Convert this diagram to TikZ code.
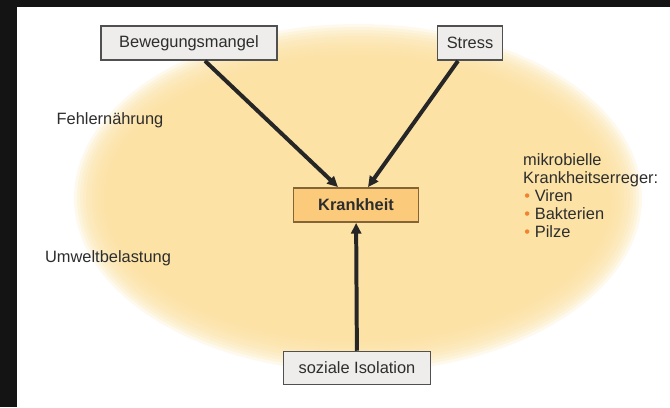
\documentclass[tikz,border=0pt]{standalone}
\usepackage{fontspec}
\setmainfont{Liberation Sans}
\usetikzlibrary{arrows.meta, positioning}
\definecolor{frame}{RGB}{20,20,20}
\definecolor{cloud}{RGB}{252,226,160}
\definecolor{boxgray}{RGB}{238,237,235}
\definecolor{linegray}{RGB}{80,80,80}
\definecolor{kfill}{RGB}{251,202,122}
\definecolor{kdraw}{RGB}{130,100,55}
\definecolor{ink}{RGB}{45,45,45}
\definecolor{dot}{RGB}{240,130,50}

\begin{document}
\begin{tikzpicture}[
  x=0.03cm, y=-0.03cm,
  every node/.style={font=\fontsize{14}{15.5}\selectfont, text=ink},
  box/.style={rectangle, draw=linegray, fill=boxgray, line width=1.3pt,
    inner sep=0pt, minimum height=1.03cm},
  core/.style={box, draw=kdraw, fill=kfill, font=\fontsize{14}{15.5}\selectfont\bfseries},
  arrow/.style={-{Triangle[length=0.32cm, width=0.3cm]}, line width=3.4pt, draw=black!85}
]
\useasboundingbox (0,0) rectangle (670,407);
\fill[frame] (0,0) rectangle (670,407);
\fill[white] (17,7) rectangle (670,407);

% soft cloud
\foreach \i in {0,...,11}
  \fill[cloud, fill opacity=0.2] (358,198) ellipse ({284-3*\i} and {174-3*\i});

\node[box, minimum width=5.28cm] (bew) at (189,43) {Bewegungsmangel};
\node[box, minimum width=1.95cm] (stress) at (470,43) {Stress};
\node[core, minimum width=3.75cm] (krank) at (356,205) {Krankheit};
\node[box, minimum width=4.41cm, minimum height=0.99cm] (iso) at (357,368) {soziale Isolation};

\node (fehl) at (110,120) {Fehlernährung};
\node (umwelt) at (108,258) {Umweltbelastung};
\node[anchor=north west, align=left, inner sep=0pt] (erreger) at (523,153)
  {mikrobielle\\Krankheitserreger:\\
   \hspace*{1pt}{\color{dot}•}\hspace{4pt}Viren\\
   \hspace*{1pt}{\color{dot}•}\hspace{4pt}Bakterien\\
   \hspace*{1pt}{\color{dot}•}\hspace{4pt}Pilze};

\draw[arrow] ([xshift=0.48cm]bew.south) -- ([xshift=-0.54cm]krank.north);
\draw[arrow] ([xshift=-0.36cm]stress.south) -- ([xshift=0.36cm]krank.north);
\draw[arrow] (iso) -- (krank);
\end{tikzpicture}
\end{document}
